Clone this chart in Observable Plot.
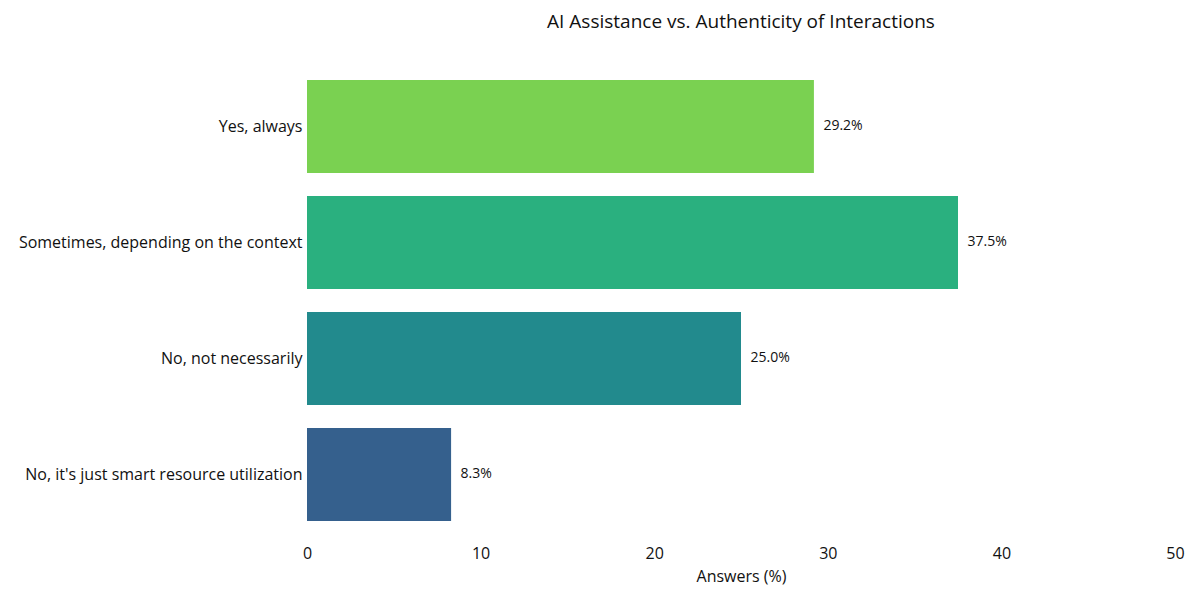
<!DOCTYPE html>
<html>
<head>
<meta charset="utf-8">
<script src="https://cdn.jsdelivr.net/npm/d3@7"></script>
<script src="https://cdn.jsdelivr.net/npm/@observablehq/plot@0.6"></script>
<style>
  body { margin: 0; background: #fff; font-family: "Open Sans", sans-serif; }
  #wrap { width: 1200px; height: 600px; position: relative; }
  #title { position: absolute; left: 307px; width: 868px; top: 8px; text-align: center; font-size: 19px; color: #111; }
  #chart { position: absolute; left: 0; top: 44px; }
</style>
</head>
<body>
<div id="wrap">
  <div id="title">AI Assistance vs. Authenticity of Interactions</div>
  <div id="chart"></div>
</div>
<script>
const categories = [
  "Yes, always",
  "Sometimes, depending on the context",
  "No, not necessarily",
  "No, it's just smart resource utilization"
];
const values = [29.2, 37.5, 25.0, 8.3];
const colors = ["#7AD151", "#2AB07F", "#228A8D", "#35608D"];
const xTicks = [0, 10, 20, 30, 40, 50];

const data = categories.map((c, i) => ({category: c, value: values[i], color: colors[i]}));

const chart = Plot.plot({
  width: 1200,
  height: 556,
  marginLeft: 307,
  marginRight: 25,
  marginTop: 12,
  marginBottom: 56,
  style: {fontFamily: "'Open Sans', sans-serif", fontSize: "16px", color: "#111"},
  x: {domain: [0, 50], ticks: xTicks, tickSize: 0, tickPadding: 3, label: "Answers (%)", labelAnchor: "center", labelOffset: 37, labelArrow: "none"},
  y: {domain: categories, padding: 0.2, tickSize: 0, tickPadding: 5, label: null},
  marks: [
    Plot.barX(data, {x: "value", y: "category", fill: "color"}),
    Plot.text(data, {x: "value", y: "category", text: d => d.value.toFixed(1) + "%", textAnchor: "start", dx: 9, dy: -1, fontSize: 14, fill: "#111"})
  ]
});
document.getElementById("chart").appendChild(chart);
</script>
</body>
</html>
